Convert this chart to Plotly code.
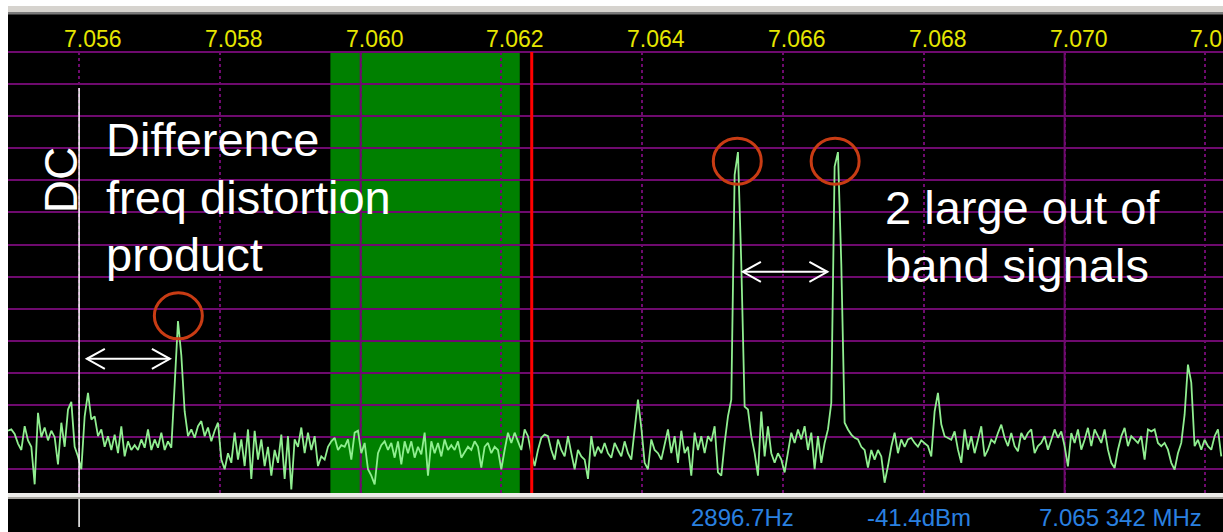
import numpy as np
import plotly.graph_objects as go

# ---------------------------------------------------------------------------
# Spectrum data: one level (dB) per FFT bin, bins evenly spaced from F_START_MHZ
# ---------------------------------------------------------------------------
F_START_MHZ = 7.05499
BIN_MHZ = 0.00004735

level_db = [
    # 7.0550 .. 7.0593
    -118, -117.6, -119, -122, -124, -116.6, -121, -123, -134.7, -112.4,
    -120, -117, -121, -118, -120, -128.5, -115.5, -123, -111.4, -109,
    -123, -126, -130, -113.5, -106.2, -114.5, -113.5, -119.7, -117.6, -123,
    -119.7, -124, -119.2, -125, -116.6, -126, -121.3, -124, -122.5, -124,
    -120.7, -123.3, -117.6, -124, -120.7, -123.3, -118.6, -124, -121.3, -123.3,
    -103.7, -83.8, -94.5, -112, -119.7, -117.6, -120.2, -116.6, -115, -119.7,
    -117, -121.3, -118, -115.5, -127, -130, -125, -128, -118.6, -127,
    -120.7, -129, -117.6, -133, -118, -127, -120.7, -129, -123, -132,
    -124, -128, -119.2, -133, -119.7, -136.3, -120.7, -123, -117, -125,
    -118.6, -124,
    # 7.0593 .. 7.0636
    -119.7, -129, -126, -127, -123, -121.3, -120.2, -124, -122.5, -123,
    -120.7, -127, -118.6, -118, -125, -121.8, -130, -132, -134.7, -125,
    -122.5, -121.3, -124, -121.8, -126.4, -121.3, -128.5, -121.3, -125, -121.3,
    -126.4, -123, -125.4, -118.6, -132, -121.3, -125, -121.8, -126, -120.7,
    -124, -122.5, -124, -121.3, -126.4, -124.5, -123, -124, -121.3, -123,
    -129.5, -123, -121.8, -125, -123, -124, -130, -124, -118.6, -121.8,
    -118.6, -121.3, -124, -117.6, -119.7, -125, -129, -124, -120.2, -119.2,
    -119.7, -124, -127, -120.7, -124, -126, -119.7, -125, -130, -124,
    -126, -127, -133, -119.7, -126, -123, -125, -121.8, -125, -126.4,
    -121.8,
    # 7.0637 .. 7.0680
    -124, -126, -121.3, -125, -127, -117.6, -108.3, -117, -128, -130,
    -120.7, -124, -125, -127, -121.8, -117.6, -125, -119.7, -128, -118,
    -125, -123, -132, -118.6, -124, -119.7, -125, -119.7, -121.3, -116.6,
    -131, -132, -121.8, -113.5, -108.3, -38.3, -31.2, -66, -110.5, -111.4,
    -119.7, -125, -132, -112, -126, -116.6, -125, -128, -125, -127,
    -131, -125, -118.6, -121.8, -117.6, -120.7, -116.6, -124, -118.6, -130,
    -119.7, -128, -121.8, -117.6, -109.3, -35.7, -31.2, -66, -115.5, -117.6,
    -119.2, -120.2, -120.7, -123, -124, -129.5, -124, -127, -124, -126,
    -134.2, -129, -123, -118.6, -125, -120.7, -123, -120.7, -120.2, -121.8,
    -123,
    -121,
    # 7.0681 .. 7.0722
    -121.8, -122.8, -126, -112, -106.2, -116, -119.7, -120.2, -120.8, -118.2,
    -123.9, -128, -117.6, -123.9, -119.7, -125, -120.8, -116.6, -126, -123.9,
    -120.8, -121.8, -118.7, -116.1, -120.2, -122.8, -118.7, -122.8, -124.4, -118.7,
    -120.8, -118.7, -117.6, -125, -122.8, -121.8, -119.7, -123.9, -120.8, -117.6,
    -120.2, -118.2, -122.8, -129.1, -118.7, -121.8, -117.6, -123.9, -120.8, -117.1,
    -122.8, -117.6, -119.7, -121.8, -117.6, -123.9, -128, -129.6, -123.9, -119.7,
    -117.1, -122.8, -119.7, -120.8, -121.8, -119.7, -127, -117.6, -118.2, -117.6,
    -121.8, -122.8, -121.8, -123.9, -128, -130.1, -125, -121.8, -113, -97.4,
    -103, -122.8, -120.8, -123.9, -120.8, -122.8, -123.9, -119.7, -117.6, -126,
]

freq_mhz = F_START_MHZ + BIN_MHZ * np.arange(len(level_db))

# Frequency scale (MHz) printed along the top edge
tick_freqs = [7.056, 7.058, 7.060, 7.062, 7.064, 7.066, 7.068, 7.070, 7.072]
tick_labels = ["7.056", "7.058", "7.060", "7.062", "7.064", "7.066", "7.068", "7.070", "7.072"]
major_freqs = [7.060, 7.070]

# Visible span
X_MIN, X_MAX = 7.05499, 7.07225
Y_MIN, Y_MAX = -137.4, 0.0

# Receiver settings
PASSBAND_MHZ = (7.05957, 7.06226)
TUNE_MHZ = 7.06243
DC_MHZ = 7.056

# Marked peaks: distortion product and the two strong signals
peak_freqs = [7.05741, 7.06535, 7.06674]
circle_levels = [-82.2, -34.0, -34.0]

# Spacing arrows: (start MHz, end MHz, level dB)
arrows = [(7.05611, 7.05729, -95.6), (7.06543, 7.06663, -68.5)]

# Status readouts
readouts = ["2896.7Hz", "-41.4dBm", "7.065 342 MHz"]
readout_px = [742, 919, 1120]

# ---------------------------------------------------------------------------
W, H = 1223, 532
ML, MR, MT, MB = 8, 0, 52, 39
PW, PH = W - ML - MR, H - MT - MB

PURPLE = "#6e0a6e"
TRACE = "#90ee90"
YELLOW = "#e6e600"
BLUE = "#2a80e0"
CIRCLE = "#c83c14"
FONT = "Liberation Sans, Arial, sans-serif"


def px_x(px):
    return (px - ML) / PW


def px_y(py):
    return (H - MB - py) / PH


def fx(f):
    return (f - X_MIN) / (X_MAX - X_MIN)


fig = go.Figure()
fig.add_trace(go.Scatter(
    x=freq_mhz, y=level_db, mode="lines",
    line=dict(color=TRACE, width=1.8, shape="linear"),
    hoverinfo="skip", showlegend=False,
))

shapes = []
# receive passband
shapes.append(dict(type="rect", xref="x", yref="paper", x0=PASSBAND_MHZ[0], x1=PASSBAND_MHZ[1],
                   y0=0, y1=1, fillcolor="#008000", line=dict(width=0), layer="below"))
# solid major divisions
for f in major_freqs:
    shapes.append(dict(type="line", xref="x", yref="paper", x0=f, x1=f, y0=0, y1=1,
                       line=dict(color=PURPLE, width=2), layer="between"))
# tuning cursor
shapes.append(dict(type="line", xref="x", yref="paper", x0=TUNE_MHZ, x1=TUNE_MHZ, y0=0, y1=1,
                   line=dict(color="#ff0000", width=3), layer="above"))
# DC marker
shapes.append(dict(type="line", xref="paper", yref="paper", x0=fx(DC_MHZ), x1=fx(DC_MHZ),
                   y0=px_y(527), y1=px_y(88), line=dict(color="white", width=1.5), layer="above"))
# peak circles
for f, lv in zip(peak_freqs, circle_levels):
    shapes.append(dict(type="circle", xref="x", yref="y", xsizemode="pixel", ysizemode="pixel",
                       xanchor=f, yanchor=lv, x0=-24, x1=24, y0=-23, y1=23,
                       line=dict(color=CIRCLE, width=3), layer="above"))
# double-headed arrows
for f0, f1, lv in arrows:
    shapes.append(dict(type="line", xref="x", yref="y", x0=f0, x1=f1, y0=lv, y1=lv,
                       line=dict(color="white", width=2), layer="above"))
    shapes.append(dict(type="path", xref="x", yref="y", xsizemode="pixel", ysizemode="pixel",
                       xanchor=f0, yanchor=lv, path="M 18,10 L 0,0 L 18,-10",
                       line=dict(color="white", width=2), layer="above"))
    shapes.append(dict(type="path", xref="x", yref="y", xsizemode="pixel", ysizemode="pixel",
                       xanchor=f1, yanchor=lv, path="M -18,10 L 0,0 L -18,-10",
                       line=dict(color="white", width=2), layer="above"))

# window frame
shapes.append(dict(type="rect", xref="paper", yref="paper", x0=px_x(0), x1=px_x(ML),
                   y0=px_y(H), y1=px_y(0), fillcolor="white", line=dict(width=0), layer="above"))
shapes.append(dict(type="rect", xref="paper", yref="paper", x0=px_x(ML), x1=px_x(W),
                   y0=px_y(6), y1=px_y(0), fillcolor="white", line=dict(width=0), layer="above"))
shapes.append(dict(type="rect", xref="paper", yref="paper", x0=px_x(ML), x1=px_x(W),
                   y0=px_y(12), y1=px_y(6), fillcolor="#d6d3ce", line=dict(width=0), layer="above"))
shapes.append(dict(type="rect", xref="paper", yref="paper", x0=px_x(ML), x1=px_x(W),
                   y0=px_y(14.5), y1=px_y(12), fillcolor="#7a7a7a", line=dict(width=0), layer="above"))
shapes.append(dict(type="rect", xref="paper", yref="paper", x0=px_x(ML), x1=px_x(W),
                   y0=px_y(497), y1=px_y(493), fillcolor="#ecebe8", line=dict(width=0), layer="above"))
shapes.append(dict(type="rect", xref="paper", yref="paper", x0=px_x(ML), x1=px_x(W),
                   y0=px_y(499), y1=px_y(497), fillcolor="#a8a6a0", line=dict(width=0), layer="above"))

annotations = []
for f, t in zip(tick_freqs, tick_labels):
    annotations.append(dict(x=f, y=px_y(38.5), xref="x", yref="paper", text=t, showarrow=False,
                            xanchor="center", yanchor="middle", xshift=14,
                            font=dict(family=FONT, size=23, color=YELLOW)))
for t, p in zip(readouts, readout_px):
    annotations.append(dict(x=px_x(p), y=px_y(517), xref="paper", yref="paper", text=t,
                            showarrow=False, xanchor="center", yanchor="middle",
                            font=dict(family=FONT, size=24, color=BLUE)))

white_text = [
    ("Difference", 7.056398, -27.4),
    ("freq distortion", 7.056398, -45.2),
    ("product", 7.056398, -63.2),
    ("2 large out of", 7.067463, -48.6),
    ("band signals", 7.067463, -66.4),
]
for t, f, lv in white_text:
    annotations.append(dict(x=f, y=lv, xref="x", yref="y", text=t, showarrow=False,
                            xanchor="left", yanchor="middle", xshift=-3,
                            font=dict(family=FONT, size=47, color="white")))
annotations.append(dict(x=7.055744, y=-39.9, xref="x", yref="y", text="DC", showarrow=False,
                        textangle=-90, xanchor="center", yanchor="middle",
                        font=dict(family=FONT, size=46, color="white")))

fig.update_layout(
    width=W, height=H,
    margin=dict(l=ML, r=MR, t=MT, b=MB, pad=0),
    paper_bgcolor="black", plot_bgcolor="black",
    shapes=shapes, annotations=annotations,
    showlegend=False,
    xaxis=dict(range=[X_MIN, X_MAX], showticklabels=False, ticks="", showline=False,
               zeroline=False, showgrid=True, tick0=7.056, dtick=0.002,
               gridcolor=PURPLE, gridwidth=1.5, griddash="dot", fixedrange=True),
    yaxis=dict(range=[Y_MIN, Y_MAX], showticklabels=False, ticks="", showline=False,
               showgrid=True, tick0=0, dtick=10, gridcolor=PURPLE, gridwidth=2,
               zeroline=True, zerolinecolor=PURPLE, zerolinewidth=2, fixedrange=True),
)

fig.write_html("out.html")
